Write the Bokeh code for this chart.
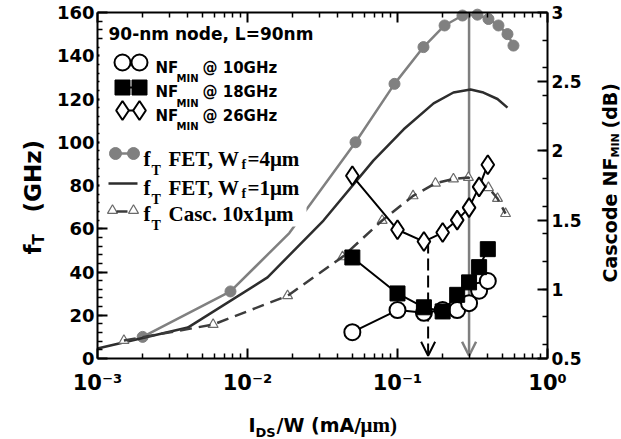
import math
from bokeh.plotting import figure
from bokeh.models import (Range1d, LinearAxis, LogAxis, FixedTicker, Label, Arrow, OpenHead,
                          BoxAnnotation, CustomJSTickFormatter)
from bokeh.embed import file_html
from bokeh.resources import INLINE

# ---------------- data ----------------
nf_x = [0.05, 0.1, 0.15, 0.2, 0.25, 0.3, 0.35, 0.4]            # mA/um
nf_10ghz = [0.69, 0.85, 0.83, 0.85, 0.85, 0.90, 0.99, 1.06]     # dB
nf_18ghz = [1.23, 0.97, 0.87, 0.84, 0.96, 1.05, 1.16, 1.29]
nf_26ghz = [1.82, 1.43, 1.345, 1.41, 1.50, 1.59, 1.74, 1.90]

fet4_x = [0.002, 0.0077, 0.0525, 0.0955, 0.149, 0.206, 0.271, 0.341, 0.404, 0.471, 0.541, 0.593]
fet4_ft = [10, 31, 100, 127, 144, 154, 158.6, 159, 157, 154, 150, 144.7]   # GHz
fet4_bend_x = 0.019      # unmarked vertex of the fT (Wf=4um) curve
fet4_bend_ft = 58

fet1_x = [0.001, 0.004, 0.0136, 0.0321, 0.069, 0.11, 0.174, 0.236, 0.307, 0.374, 0.464, 0.541]
fet1_ft = [4.6, 14.3, 37.5, 63.8, 91.5, 106, 118, 123, 124.4, 123, 120, 116]

casc_x = [0.0015, 0.0059, 0.0185, 0.043, 0.079, 0.127, 0.179, 0.236, 0.297, 0.404, 0.464, 0.525]
casc_ft = [8.3, 15.7, 29, 47, 63.8, 75.2, 81, 83, 83.7, 79, 74, 67]

arrow_x = [0.16, 0.3]          # optimum-current markers
arrow_from_nf = [1.345, 3.0]
arrow_to_nf = 0.52

x_lim = (1e-3, 1.0)
ft_lim = (0, 160)
nf_lim = (0.5, 3.0)
x_ticks = [1e-3, 1e-2, 1e-1, 1.0]
ft_ticks = [0, 20, 40, 60, 80, 100, 120, 140, 160]
nf_ticks = [0.5, 1, 1.5, 2, 2.5, 3]

# ---------------- geometry: plot box in page pixels ----------------
W, H = 621, 439
FL, FR, FT, FB = 97, 547, 12, 358
dec_px = (FR - FL) / 3.0
ft_px = (FB - FT) / 160.0
nf_px = (FB - FT) / 2.5


def px_x(px):
    return 10 ** (-3 + (px - FL) / dec_px)


def px_y(py):
    return (FB - py) / ft_px


def px_nf(py):
    return 0.5 + (FB - py) / nf_px


SANS = "DejaVu Sans"
SERIF = "Liberation Serif"

# The frame fills the whole canvas; the axes are pinned at the plot-box edges,
# so the titles outside the box are not clipped.
p = figure(width=W, height=H, x_axis_type="log",
           x_range=Range1d(px_x(0), px_x(W)), y_range=Range1d(px_y(H), px_y(0)),
           output_backend="svg", toolbar_location=None,
           min_border_left=0, min_border_right=0, min_border_top=0, min_border_bottom=0)
p.extra_y_ranges = {"nf": Range1d(px_nf(H), px_nf(0))}
p.grid.visible = False
p.outline_line_color = None
p.background_fill_color = "white"
p.border_fill_color = "white"


def style_axis(ax, size="18px"):
    ax.axis_line_width = 2
    ax.axis_line_color = "black"
    ax.major_tick_in = 10
    ax.major_tick_out = 0
    ax.minor_tick_in = 5
    ax.minor_tick_out = 0
    ax.major_tick_line_width = 2
    ax.minor_tick_line_width = 1.5
    ax.major_label_text_font = SANS
    ax.major_label_text_font_style = "bold"
    ax.major_label_text_font_size = size
    ax.major_label_text_color = "black"


x_minor = [m * 10 ** e for e in (-3, -2, -1) for m in range(2, 10)]
sup_js = """
const sup = {'-':'\u207b','0':'\u2070','1':'\u00b9','2':'\u00b2','3':'\u00b3','4':'\u2074'};
const e = Math.round(Math.log10(tick));
return '10' + String(e).split('').map(c => sup[c]).join('');
"""
bx = p.xaxis[0]
bx.ticker = FixedTicker(ticks=x_ticks, minor_ticks=x_minor)
bx.formatter = CustomJSTickFormatter(code=sup_js)
bx.fixed_location = ft_lim[0]
bx.bounds = x_lim
style_axis(bx, "21px")
bx.major_label_standoff = 12

tx = LogAxis(ticker=FixedTicker(ticks=x_ticks, minor_ticks=x_minor),
             formatter=CustomJSTickFormatter(code="return '';"),
             fixed_location=ft_lim[1], bounds=x_lim)
style_axis(tx)
tx.major_label_text_font_size = "0px"
tx.major_label_standoff = 0
p.add_layout(tx, "above")

ly = p.yaxis[0]
ly.ticker = FixedTicker(ticks=ft_ticks, minor_ticks=list(range(4, 160, 4)))
ly.fixed_location = x_lim[0]
ly.bounds = ft_lim
style_axis(ly, "18px")
ly.major_label_standoff = 3

ry = LinearAxis(y_range_name="nf",
                ticker=FixedTicker(ticks=nf_ticks,
                                   minor_ticks=[round(0.6 + 0.2 * i, 1) for i in range(12)]),
                formatter=CustomJSTickFormatter(code="return String(tick);"),
                fixed_location=x_lim[1], bounds=nf_lim)
style_axis(ry, "17px")
ry.major_label_standoff = 4
p.add_layout(ry, "right")

# ---------------- vertical markers ----------------
p.add_layout(Arrow(x_start=arrow_x[0], y_start=arrow_from_nf[0], x_end=arrow_x[0], y_end=arrow_to_nf,
                   y_range_name="nf", line_color="black", line_width=2, line_dash="12 5",
                   end=OpenHead(size=14, line_width=2, line_color="black"), level="underlay"))
p.add_layout(Arrow(x_start=arrow_x[1], y_start=arrow_from_nf[1], x_end=arrow_x[1], y_end=arrow_to_nf,
                   y_range_name="nf", line_color="#7f7f7f", line_width=2.5,
                   end=OpenHead(size=14, line_width=2.5, line_color="#7f7f7f"), level="underlay"))

# ---------------- fT curves ----------------
path = sorted(list(zip(fet4_x, fet4_ft)) + [(fet4_bend_x, fet4_bend_ft)])
p.line([a for a, b in path], [b for a, b in path], line_color="#808080", line_width=2.5)
p.scatter(fet4_x, fet4_ft, marker="circle", size=11, fill_color="#808080", line_color="#808080")
p.line(fet1_x, fet1_ft, line_color="#2d2d2d", line_width=2.5)
p.scatter(casc_x, casc_ft, marker="triangle", size=10, fill_color="white", line_color="#6a6a6a",
          line_width=1.2)
p.line(casc_x, casc_ft, line_color="#3c3c3c", line_width=2.5, line_dash="12 7")

# ---------------- NFmin series ----------------
p.line(nf_x, nf_10ghz, y_range_name="nf", line_color="black", line_width=2)
p.scatter(nf_x, nf_10ghz, y_range_name="nf", marker="circle", size=16, fill_color="white",
          line_color="black", line_width=2)
p.line(nf_x, nf_18ghz, y_range_name="nf", line_color="black", line_width=2)
p.scatter(nf_x, nf_18ghz, y_range_name="nf", marker="square", size=15, fill_color="black",
          line_color="black")
p.line(nf_x, nf_26ghz, y_range_name="nf", line_color="black", line_width=2)
p.scatter(nf_x, nf_26ghz, y_range_name="nf", marker="diamond", size=19, fill_color="white",
          line_color="black", line_width=2)

# ---------------- legend (white panel, symbols, texts) ----------------
p.add_layout(BoxAnnotation(left=px_x(99), right=px_x(306), top=px_y(44), bottom=px_y(226),
                           fill_color="white", fill_alpha=1, line_color=None, level="annotation"))


def leg_line(x0, x1, y, **kw):
    r = p.line([px_x(x0), px_x(x1)], [px_y(y), px_y(y)], **kw)
    r.level = "overlay"


def leg_pts(xs, y, **kw):
    r = p.scatter([px_x(v) for v in xs], [px_y(y)] * len(xs), **kw)
    r.level = "overlay"


leg_line(122, 139, 62, line_color="black", line_width=2)
leg_pts([122, 139], 62, marker="circle", size=16, fill_color="white", line_color="black", line_width=2)
leg_line(122, 139, 87, line_color="black", line_width=2)
leg_pts([122, 139], 87, marker="square", size=15, fill_color="black", line_color="black")
leg_line(122, 139, 110, line_color="black", line_width=2)
leg_pts([122, 139], 110, marker="diamond", size=19, fill_color="white", line_color="black", line_width=2)
leg_line(115, 133, 153, line_color="#808080", line_width=2.5)
leg_pts([115, 133], 153, marker="circle", size=12, fill_color="#808080", line_color="#808080")
leg_line(108, 137, 183, line_color="#2d2d2d", line_width=2.5)
leg_pts([112, 133], 210, marker="triangle", size=10, fill_color="white", line_color="#6a6a6a", line_width=1.2)
leg_line(116, 127, 211, line_color="#3c3c3c", line_width=2.5)


def lab(text, px, py, size, font=SANS, angle=0.0, level="overlay"):
    p.add_layout(Label(x=px_x(px), y=px_y(py), text=text, text_font=font,
                       text_font_style="bold", text_font_size=size, text_color="black",
                       text_align="left", text_baseline="alphabetic", angle=angle, level=level))


lab("90-nm node, L=90nm", 108, 33, "17px")

for base, ghz in zip([67, 91.5, 115], ["10GHz", "18GHz", "26GHz"]):
    lab("NF", 155, base, "15px")
    lab("MIN", 176, base + 11, "10px")
    lab("@ " + ghz, 202, base, "15px")

for base, main, sub, rest in [(158, "FET, W", "f", "=4\u03bcm"),
                              (187, "FET, W", "f", "=1\u03bcm"),
                              (213, "Casc. 10x1\u03bcm", None, None)]:
    lab("f", 143, base, "21px", SERIF)
    lab("T", 151, base + 12, "14px", SERIF)
    lab(main, 168, base, "21px", SERIF)
    if sub:
        lab(sub, 241, base + 6, "14px", SERIF)
        lab(rest, 247, base, "21px", SERIF)

# axis titles
lab("I", 248, 424, "19px")
lab("DS", 255, 432, "13px")
lab("/W (mA/", 276, 424, "19px")
lab("\u03bcm)", 360, 424, "21px", SERIF)

half_pi = math.pi / 2
lab("f", 32, 254, "23px", angle=half_pi)
lab("T", 38, 244, "15px", angle=half_pi)
lab("(GHz)", 32, 212, "23px", angle=half_pi)

lab("Cascode", 609, 282, "19px", angle=half_pi)
lab("NF", 609, 186, "19px", angle=half_pi)
lab("MIN", 615, 157, "11px", angle=half_pi)
lab("(dB)", 609, 128, "19px", angle=half_pi)

open("out.html", "w").write(file_html(p, INLINE))
